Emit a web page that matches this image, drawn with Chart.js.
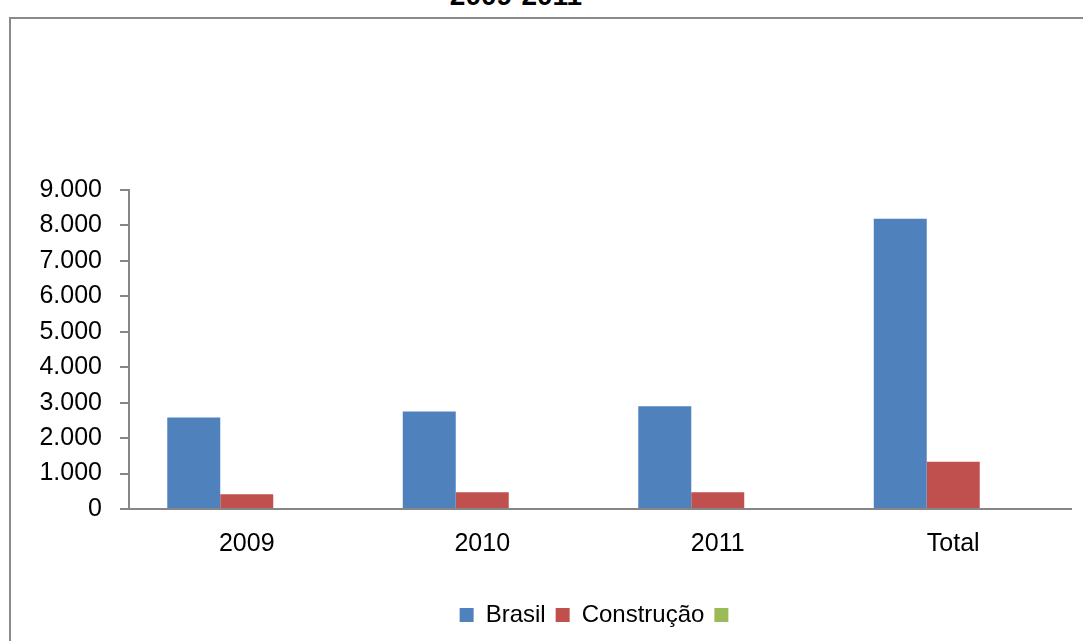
<!DOCTYPE html>
<html lang="pt-BR">
<head>
<meta charset="utf-8">
<title>2009-2011</title>
<script src="https://cdn.jsdelivr.net/npm/chart.js@4/dist/chart.umd.min.js"></script>
<style>
  html, body { margin: 0; padding: 0; background: #fff; overflow: hidden; }
  #quadro { position: relative; width: 1083px; height: 641px; overflow: hidden; }
  #titulo {
    position: absolute; top: -18px; left: 516px; transform: translateX(-50%);
    font: bold 28px "Liberation Sans", Arial, sans-serif; line-height: 28px;
    color: #000; white-space: nowrap;
  }
  #moldura {
    position: absolute; left: 9px; top: 17px; width: 2000px; height: 2000px;
    border-left: 2px solid #8a8a8a; border-top: 2px solid #8a8a8a;
  }
  #grafico { position: absolute; left: 0; top: 0; }
</style>
</head>
<body>
<div id="quadro">
  <div id="titulo">2009-2011</div>
  <div id="moldura"></div>
  <canvas id="grafico" width="1083" height="641"></canvas>
</div>
<script>
// anos + total acumulado
const categorias = ['2009', '2010', '2011', 'Total'];
const brasil = [2580, 2750, 2900, 8190];
const construcao = [415, 470, 470, 1335];
const serieVazia = [null, null, null, null];

const eixoY = { min: 0, max: 9000, passo: 1000 };

const fonte = '"Liberation Sans", Arial, sans-serif';
const cinzaEixo = '#868686';

function formataMilhar(v) {
  return String(v).replace(/\B(?=(\d{3})+(?!\d))/g, '.');
}

const ctx = document.getElementById('grafico').getContext('2d');

new Chart(ctx, {
  type: 'bar',
  data: {
    labels: categorias,
    datasets: [
      { label: 'Brasil', data: brasil, backgroundColor: '#4F81BD' },
      { label: 'Construção', data: construcao, backgroundColor: '#C0504D' },
      { label: '', data: serieVazia, backgroundColor: '#9BBB59' }
    ]
  },
  options: {
    responsive: false,
    animation: false,
    devicePixelRatio: 1,
    datasets: {
      bar: { categoryPercentage: 0.675, barPercentage: 1, borderWidth: 0 }
    },
    layout: {
      padding: { top: 190, right: 12, bottom: 4, left: 0 }
    },
    scales: {
      x: {
        grid: { display: true, drawOnChartArea: false, drawTicks: false },
        border: { display: true, color: cinzaEixo, width: 2 },
        ticks: { color: '#000', padding: 20, font: { family: fonte, size: 25 } },
        afterFit: scale => { scale.height = 84; }
      },
      y: {
        min: eixoY.min,
        max: eixoY.max,
        grid: { drawOnChartArea: false, drawTicks: true, tickLength: 9, color: cinzaEixo, lineWidth: 2 },
        border: { display: true, color: cinzaEixo, width: 2 },
        ticks: {
          stepSize: eixoY.passo,
          color: '#000',
          padding: 18,
          font: { family: fonte, size: 25 },
          callback: v => formataMilhar(v)
        },
        afterFit: scale => { scale.width = 129; }
      }
    },
    plugins: {
      legend: {
        display: true,
        position: 'bottom',
        fullSize: false,
        labels: {
          boxWidth: 14,
          boxHeight: 14,
          padding: 10,
          color: '#000',
          font: { family: fonte, size: 24 }
        }
      },
      tooltip: { enabled: false }
    }
  }
});
</script>
</body>
</html>
